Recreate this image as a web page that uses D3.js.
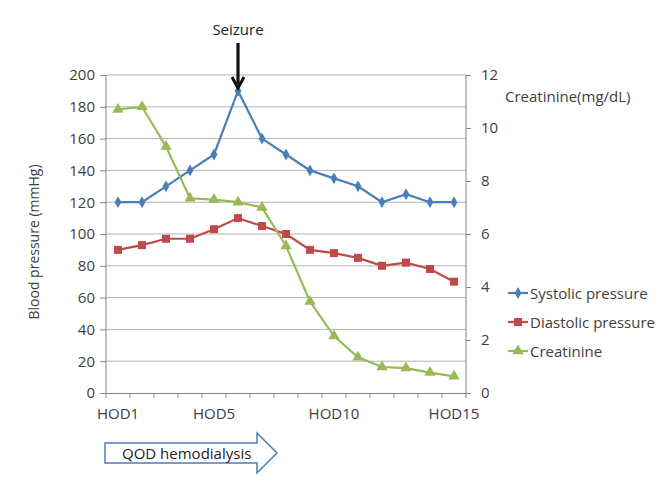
<!DOCTYPE html>
<html><head><meta charset="utf-8">
<script src="https://cdn.jsdelivr.net/npm/d3@7"></script>
<style>body{margin:0;background:#fff;} text{font-family:"Open Sans",sans-serif;}</style>
</head><body><svg id="c" width="672" height="491"></svg>
<script>
const days = ["HOD1","HOD2","HOD3","HOD4","HOD5","HOD6","HOD7","HOD8","HOD9","HOD10","HOD11","HOD12","HOD13","HOD14","HOD15"];
const tickDays = ["HOD1","HOD5","HOD10","HOD15"];
const systolic = [120,120,130,140,150,190,160,150,140,135,130,120,125,120,120];
const diastolic = [90,93,97,97,103,110,105,100,90,88,85,80,82,78,70];
const creatinine = [10.7,10.8,9.3,7.35,7.3,7.2,7.0,5.55,3.45,2.15,1.35,0.98,0.94,0.77,0.63];
const leftTicks = [0,20,40,60,80,100,120,140,160,180,200];
const rightTicks = [0,2,4,6,8,10,12];

const svg = d3.select("#c");
const L = 106, R = 466, T = 75, B = 393;
const x = d3.scaleBand().domain(days).range([L, R]);
const yL = d3.scaleLinear().domain([0,200]).range([B, T]);
const yR = d3.scaleLinear().domain([0,12]).range([B, T]);
const cx = d => x(d) + x.bandwidth()/2;
const txtCol = "#404040", axCol = "#868686";

// gridlines
svg.append("g").selectAll("line").data(leftTicks.filter(v=>v>0)).join("line")
  .attr("x1", L).attr("x2", R).attr("y1", d=>yL(d)).attr("y2", d=>yL(d))
  .attr("stroke", "#b3b3b3").attr("stroke-width", 1);

// left axis
const gl = svg.append("g").attr("transform", `translate(${L},0)`)
  .call(d3.axisLeft(yL).tickValues(leftTicks).tickSize(6).tickPadding(5));
// right axis
const gr = svg.append("g").attr("transform", `translate(${R},0)`)
  .call(d3.axisRight(yR).tickValues(rightTicks).tickSize(5).tickPadding(10));
// bottom axis
const gb = svg.append("g").attr("transform", `translate(0,${B})`)
  .call(d3.axisBottom(x).tickValues([]).tickSizeOuter(0));
gb.selectAll(".tick").remove();
svg.append("g").selectAll("line").data(days.concat(["end"])).join("line")
  .attr("x1", (d,i)=> i<days.length ? x(d) : R).attr("x2",(d,i)=> i<days.length ? x(d) : R)
  .attr("y1", B).attr("y2", B+5).attr("stroke", axCol);
svg.append("g").selectAll("text").data(tickDays).join("text")
  .attr("x", d=>cx(d)).attr("y", B+26).attr("text-anchor","middle")
  .attr("font-size", 15).attr("fill", txtCol).text(d=>d);

[gl,gr,gb].forEach(g=>{
  g.selectAll("path").attr("stroke", axCol);
  g.selectAll("line").attr("stroke", axCol);
  g.selectAll("text").attr("font-size", 15).attr("fill", txtCol).attr("font-family","Open Sans");
});
gl.select(".domain").attr("d", `M0,${B}V${T}`);
gr.select(".domain").attr("d", `M0,${B}V${T}`);

// axis titles
svg.append("text").attr("transform", `translate(39,242) rotate(-90)`)
  .attr("text-anchor","middle").attr("font-size",14).attr("fill",txtCol).text("Blood pressure (mmHg)");
svg.append("text").attr("x",505).attr("y",102).attr("font-size",15).attr("fill",txtCol).text("Creatinine(mg/dL)");

const series = [
  {name:"Systolic pressure", vals:systolic, y:yL, color:"#4A7EBB", sym:d3.symbolDiamond, size:40},
  {name:"Diastolic pressure", vals:diastolic, y:yL, color:"#BE4B48", sym:d3.symbolSquare, size:64},
  {name:"Creatinine", vals:creatinine, y:yR, color:"#98B954", sym:d3.symbolTriangle, size:55}
];
series.forEach(s=>{
  const line = d3.line().x((d,i)=>cx(days[i])).y(d=>s.y(d));
  svg.append("path").attr("d", line(s.vals)).attr("fill","none").attr("stroke", s.color).attr("stroke-width",2.2);
  svg.append("g").selectAll("path").data(s.vals).join("path")
    .attr("transform",(d,i)=>`translate(${cx(days[i])},${s.y(d)})`)
    .attr("d", d3.symbol(s.sym, s.size)).attr("fill", s.color);
});

// legend
series.forEach((s,i)=>{
  const yy = 293 + i*29;
  svg.append("line").attr("x1",508).attr("x2",528).attr("y1",yy).attr("y2",yy).attr("stroke",s.color).attr("stroke-width",2.2);
  svg.append("path").attr("transform",`translate(518,${yy})`).attr("d", d3.symbol(s.sym, s.size)).attr("fill", s.color);
  svg.append("text").attr("x",530).attr("y",yy+5.5).attr("font-size",15).attr("fill",txtCol).text(s.name);
});

// Seizure arrow
const sx = cx("HOD6");
svg.append("text").attr("x", sx).attr("y", 35).attr("text-anchor","middle").attr("font-size",15).attr("fill","#222").text("Seizure");
svg.append("line").attr("x1",sx).attr("x2",sx).attr("y1",43).attr("y2",84).attr("stroke","#111").attr("stroke-width",3.2);
svg.append("path").attr("d",`M${sx-6},${77} L${sx},${88} L${sx+6},${77}`).attr("fill","none").attr("stroke","#111").attr("stroke-width",3);

// QOD hemodialysis arrow
svg.append("path").attr("d","M105,443 H257 V433 L277,453 L257,473 V463 H105 Z")
  .attr("fill","#fff").attr("stroke","#4A7EBB").attr("stroke-width",1.5);
svg.append("text").attr("x",122).attr("y",459).attr("font-size",15).attr("fill","#222").text("QOD hemodialysis");
</script></body></html>
